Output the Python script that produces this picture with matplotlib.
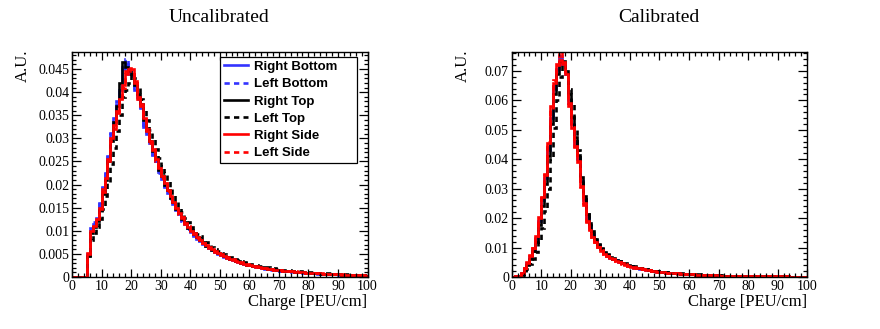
import numpy as np
import matplotlib.pyplot as plt
from matplotlib.ticker import MultipleLocator

# bin edges: 1 PEU/cm bins from 0 to 100
edges = np.arange(0, 101, 1)

labels = ["Right Bottom", "Left Bottom", "Right Top", "Left Top", "Right Side", "Left Side"]

# ---- Uncalibrated ----
unc_right_bottom = [
    0, 0, 0, 0, 0, 0.0050, 0.0105, 0.0115, 0.0128, 0.0160,
    0.0195, 0.0222, 0.0262, 0.0310, 0.0345, 0.0375, 0.0405, 0.0455, 0.0462, 0.0440,
    0.0440, 0.0405, 0.0390, 0.0365, 0.0325, 0.0310, 0.0290, 0.0265, 0.0250, 0.0228,
    0.0212, 0.0198, 0.0182, 0.0170, 0.0158, 0.0145, 0.0136, 0.0124, 0.0115, 0.0105,
    0.0097, 0.0090, 0.0083, 0.0077, 0.0072, 0.0067, 0.0062, 0.0058, 0.0054, 0.0050,
    0.0047, 0.0044, 0.0042, 0.0039, 0.0037, 0.0034, 0.0032, 0.0030, 0.0028, 0.0027,
    0.0025, 0.0024, 0.0022, 0.0021, 0.0020, 0.0019, 0.0018, 0.0017, 0.0016, 0.0015,
    0.0014, 0.0014, 0.0013, 0.0012, 0.0012, 0.0011, 0.0010, 0.0010, 0.0009, 0.0009,
    0.0009, 0.0008, 0.0008, 0.0008, 0.0007, 0.0007, 0.0007, 0.0006, 0.0006, 0.0006,
    0.0005, 0.0005, 0.0005, 0.0005, 0.0004, 0.0004, 0.0004, 0.0004, 0.0003, 0.0003]
unc_left_bottom = [
    0, 0, 0, 0, 0, 0.0048, 0.0102, 0.0118, 0.0125, 0.0158,
    0.0192, 0.0225, 0.0260, 0.0312, 0.0340, 0.0380, 0.0410, 0.0450, 0.0472, 0.0445,
    0.0435, 0.0410, 0.0385, 0.0368, 0.0330, 0.0305, 0.0292, 0.0262, 0.0252, 0.0225,
    0.0214, 0.0195, 0.0184, 0.0168, 0.0160, 0.0143, 0.0138, 0.0122, 0.0117, 0.0103,
    0.0098, 0.0089, 0.0084, 0.0076, 0.0073, 0.0066, 0.0063, 0.0057, 0.0055, 0.0049,
    0.0048, 0.0043, 0.0042, 0.0038, 0.0037, 0.0034, 0.0033, 0.0030, 0.0029, 0.0026,
    0.0025, 0.0023, 0.0023, 0.0021, 0.0020, 0.0018, 0.0018, 0.0016, 0.0016, 0.0015,
    0.0014, 0.0013, 0.0013, 0.0012, 0.0011, 0.0011, 0.0010, 0.0010, 0.0009, 0.0009,
    0.0008, 0.0008, 0.0008, 0.0007, 0.0007, 0.0007, 0.0006, 0.0006, 0.0006, 0.0006,
    0.0005, 0.0005, 0.0005, 0.0004, 0.0004, 0.0004, 0.0004, 0.0003, 0.0003, 0.0003]
unc_right_top = [
    0, 0, 0, 0, 0, 0.0045, 0.0095, 0.0108, 0.0122, 0.0145,
    0.0180, 0.0210, 0.0250, 0.0295, 0.0335, 0.0370, 0.0420, 0.0465, 0.0455, 0.0445,
    0.0440, 0.0415, 0.0395, 0.0375, 0.0340, 0.0318, 0.0295, 0.0272, 0.0255, 0.0232,
    0.0218, 0.0200, 0.0188, 0.0172, 0.0162, 0.0148, 0.0140, 0.0126, 0.0118, 0.0107,
    0.0101, 0.0092, 0.0087, 0.0079, 0.0075, 0.0068, 0.0064, 0.0059, 0.0056, 0.0051,
    0.0049, 0.0045, 0.0043, 0.0040, 0.0038, 0.0035, 0.0034, 0.0031, 0.0030, 0.0027,
    0.0026, 0.0024, 0.0023, 0.0021, 0.0021, 0.0019, 0.0018, 0.0017, 0.0017, 0.0015,
    0.0015, 0.0014, 0.0013, 0.0013, 0.0012, 0.0011, 0.0011, 0.0010, 0.0010, 0.0009,
    0.0009, 0.0009, 0.0008, 0.0008, 0.0007, 0.0007, 0.0007, 0.0007, 0.0006, 0.0006,
    0.0006, 0.0005, 0.0005, 0.0005, 0.0005, 0.0004, 0.0004, 0.0004, 0.0004, 0.0003]
unc_left_top = [
    0, 0, 0, 0, 0, 0.0040, 0.0080, 0.0095, 0.0108, 0.0125,
    0.0148, 0.0175, 0.0205, 0.0245, 0.0280, 0.0315, 0.0350, 0.0390, 0.0405, 0.0420,
    0.0440, 0.0430, 0.0410, 0.0385, 0.0365, 0.0340, 0.0318, 0.0298, 0.0278, 0.0258,
    0.0240, 0.0225, 0.0208, 0.0192, 0.0178, 0.0165, 0.0150, 0.0140, 0.0128, 0.0118,
    0.0108, 0.0102, 0.0094, 0.0088, 0.0081, 0.0076, 0.0070, 0.0066, 0.0061, 0.0057,
    0.0053, 0.0050, 0.0047, 0.0044, 0.0041, 0.0039, 0.0036, 0.0034, 0.0032, 0.0030,
    0.0029, 0.0027, 0.0026, 0.0024, 0.0023, 0.0022, 0.0021, 0.0020, 0.0019, 0.0018,
    0.0017, 0.0016, 0.0015, 0.0015, 0.0014, 0.0013, 0.0013, 0.0012, 0.0011, 0.0011,
    0.0010, 0.0010, 0.0009, 0.0009, 0.0009, 0.0008, 0.0008, 0.0008, 0.0007, 0.0007,
    0.0007, 0.0006, 0.0006, 0.0006, 0.0006, 0.0005, 0.0005, 0.0005, 0.0005, 0.0004]
unc_right_side = [
    0, 0, 0, 0, 0, 0.0052, 0.0100, 0.0110, 0.0125, 0.0150,
    0.0190, 0.0215, 0.0255, 0.0300, 0.0330, 0.0360, 0.0385, 0.0415, 0.0440, 0.0450,
    0.0450, 0.0420, 0.0390, 0.0375, 0.0345, 0.0315, 0.0295, 0.0275, 0.0255, 0.0235,
    0.0218, 0.0203, 0.0189, 0.0175, 0.0162, 0.0150, 0.0139, 0.0128, 0.0117, 0.0108,
    0.0100, 0.0093, 0.0086, 0.0080, 0.0074, 0.0069, 0.0064, 0.0060, 0.0056, 0.0052,
    0.0049, 0.0046, 0.0043, 0.0040, 0.0038, 0.0035, 0.0033, 0.0031, 0.0029, 0.0027,
    0.0026, 0.0024, 0.0023, 0.0022, 0.0020, 0.0019, 0.0018, 0.0017, 0.0016, 0.0016,
    0.0015, 0.0014, 0.0013, 0.0013, 0.0012, 0.0011, 0.0011, 0.0010, 0.0010, 0.0009,
    0.0009, 0.0009, 0.0008, 0.0008, 0.0008, 0.0007, 0.0007, 0.0007, 0.0006, 0.0006,
    0.0006, 0.0006, 0.0005, 0.0005, 0.0005, 0.0005, 0.0004, 0.0004, 0.0004, 0.0003]
unc_left_side = [
    0, 0, 0, 0, 0, 0.0050, 0.0098, 0.0112, 0.0122, 0.0148,
    0.0185, 0.0210, 0.0250, 0.0295, 0.0320, 0.0355, 0.0380, 0.0410, 0.0445, 0.0452,
    0.0445, 0.0425, 0.0385, 0.0370, 0.0348, 0.0320, 0.0290, 0.0278, 0.0250, 0.0238,
    0.0215, 0.0205, 0.0186, 0.0178, 0.0160, 0.0152, 0.0137, 0.0130, 0.0115, 0.0110,
    0.0098, 0.0095, 0.0084, 0.0082, 0.0073, 0.0070, 0.0063, 0.0061, 0.0055, 0.0053,
    0.0048, 0.0047, 0.0042, 0.0041, 0.0037, 0.0036, 0.0032, 0.0032, 0.0028, 0.0028,
    0.0025, 0.0025, 0.0022, 0.0022, 0.0020, 0.0019, 0.0018, 0.0018, 0.0016, 0.0016,
    0.0015, 0.0014, 0.0014, 0.0013, 0.0012, 0.0012, 0.0011, 0.0010, 0.0010, 0.0009,
    0.0009, 0.0009, 0.0008, 0.0008, 0.0007, 0.0007, 0.0007, 0.0007, 0.0006, 0.0006,
    0.0006, 0.0005, 0.0005, 0.0005, 0.0005, 0.0004, 0.0004, 0.0004, 0.0004, 0.0003]

# ---- Calibrated ----
cal_right_bottom = [
    0.0000, 0.0002, 0.0005, 0.0011, 0.0028, 0.0046, 0.0068, 0.0095, 0.0130, 0.0190,
    0.0260, 0.0335, 0.0430, 0.0540, 0.0640, 0.0705, 0.0745, 0.0725, 0.0690, 0.0600,
    0.0520, 0.0460, 0.0400, 0.0325, 0.0262, 0.0205, 0.0170, 0.0145, 0.0124, 0.0108,
    0.0094, 0.0082, 0.0073, 0.0066, 0.0061, 0.0057, 0.0052, 0.0047, 0.0043, 0.0039,
    0.0036, 0.0033, 0.0031, 0.0029, 0.0027, 0.0025, 0.0023, 0.0022, 0.0020, 0.0019,
    0.0017, 0.0016, 0.0015, 0.0014, 0.0013, 0.0013, 0.0012, 0.0011, 0.0010, 0.0010,
    0.0009, 0.0009, 0.0008, 0.0008, 0.0007, 0.0007, 0.0007, 0.0006, 0.0006, 0.0006,
    0.0005, 0.0005, 0.0005, 0.0005, 0.0004, 0.0004, 0.0004, 0.0004, 0.0003, 0.0003,
    0.0003, 0.0003, 0.0003, 0.0003, 0.0002, 0.0002, 0.0002, 0.0002, 0.0002, 0.0002,
    0.0002, 0.0002, 0.0002, 0.0001, 0.0001, 0.0001, 0.0001, 0.0001, 0.0001, 0.0001]
cal_left_bottom = [
    0.0000, 0.0002, 0.0005, 0.0012, 0.0029, 0.0047, 0.0070, 0.0093, 0.0133, 0.0186,
    0.0265, 0.0330, 0.0438, 0.0532, 0.0648, 0.0700, 0.0752, 0.0718, 0.0695, 0.0592,
    0.0525, 0.0452, 0.0405, 0.0318, 0.0266, 0.0200, 0.0173, 0.0142, 0.0126, 0.0106,
    0.0095, 0.0081, 0.0074, 0.0065, 0.0062, 0.0056, 0.0053, 0.0046, 0.0044, 0.0038,
    0.0037, 0.0032, 0.0031, 0.0028, 0.0027, 0.0024, 0.0023, 0.0021, 0.0020, 0.0018,
    0.0017, 0.0016, 0.0015, 0.0014, 0.0013, 0.0012, 0.0012, 0.0011, 0.0010, 0.0010,
    0.0009, 0.0009, 0.0008, 0.0008, 0.0007, 0.0007, 0.0006, 0.0006, 0.0006, 0.0006,
    0.0005, 0.0005, 0.0005, 0.0004, 0.0004, 0.0004, 0.0004, 0.0003, 0.0003, 0.0003,
    0.0003, 0.0003, 0.0003, 0.0002, 0.0002, 0.0002, 0.0002, 0.0002, 0.0002, 0.0002,
    0.0002, 0.0002, 0.0001, 0.0001, 0.0001, 0.0001, 0.0001, 0.0001, 0.0001, 0.0001]
cal_right_top = [
    0.0000, 0.0002, 0.0004, 0.0010, 0.0025, 0.0042, 0.0062, 0.0088, 0.0120, 0.0175,
    0.0240, 0.0315, 0.0410, 0.0520, 0.0620, 0.0690, 0.0730, 0.0735, 0.0700, 0.0620,
    0.0545, 0.0475, 0.0415, 0.0340, 0.0275, 0.0215, 0.0178, 0.0150, 0.0128, 0.0110,
    0.0096, 0.0084, 0.0075, 0.0068, 0.0062, 0.0058, 0.0053, 0.0048, 0.0044, 0.0040,
    0.0037, 0.0034, 0.0032, 0.0030, 0.0028, 0.0026, 0.0024, 0.0022, 0.0021, 0.0019,
    0.0018, 0.0017, 0.0016, 0.0015, 0.0014, 0.0013, 0.0012, 0.0011, 0.0011, 0.0010,
    0.0010, 0.0009, 0.0009, 0.0008, 0.0008, 0.0007, 0.0007, 0.0007, 0.0006, 0.0006,
    0.0006, 0.0005, 0.0005, 0.0005, 0.0004, 0.0004, 0.0004, 0.0004, 0.0003, 0.0003,
    0.0003, 0.0003, 0.0003, 0.0003, 0.0002, 0.0002, 0.0002, 0.0002, 0.0002, 0.0002,
    0.0002, 0.0002, 0.0002, 0.0002, 0.0001, 0.0001, 0.0001, 0.0001, 0.0001, 0.0001]
cal_left_top = [
    0.0000, 0.0001, 0.0003, 0.0007, 0.0015, 0.0028, 0.0045, 0.0062, 0.0085, 0.0120,
    0.0165, 0.0225, 0.0300, 0.0400, 0.0505, 0.0600, 0.0680, 0.0720, 0.0690, 0.0640,
    0.0590, 0.0500, 0.0430, 0.0335, 0.0265, 0.0215, 0.0185, 0.0155, 0.0130, 0.0112,
    0.0098, 0.0086, 0.0078, 0.0070, 0.0065, 0.0060, 0.0055, 0.0050, 0.0046, 0.0042,
    0.0038, 0.0036, 0.0033, 0.0031, 0.0029, 0.0027, 0.0025, 0.0023, 0.0022, 0.0020,
    0.0019, 0.0018, 0.0016, 0.0015, 0.0014, 0.0014, 0.0013, 0.0012, 0.0011, 0.0011,
    0.0010, 0.0010, 0.0009, 0.0009, 0.0008, 0.0008, 0.0007, 0.0007, 0.0007, 0.0006,
    0.0006, 0.0006, 0.0005, 0.0005, 0.0005, 0.0005, 0.0004, 0.0004, 0.0004, 0.0004,
    0.0003, 0.0003, 0.0003, 0.0003, 0.0003, 0.0003, 0.0002, 0.0002, 0.0002, 0.0002,
    0.0002, 0.0002, 0.0002, 0.0002, 0.0002, 0.0001, 0.0001, 0.0001, 0.0001, 0.0001]
cal_right_side = [
    0.0000, 0.0002, 0.0005, 0.0012, 0.0030, 0.0050, 0.0072, 0.0100, 0.0138, 0.0205,
    0.0272, 0.0350, 0.0455, 0.0580, 0.0660, 0.0725, 0.0738, 0.0732, 0.0690, 0.0590,
    0.0505, 0.0445, 0.0390, 0.0310, 0.0245, 0.0190, 0.0160, 0.0137, 0.0118, 0.0103,
    0.0090, 0.0078, 0.0070, 0.0064, 0.0060, 0.0056, 0.0051, 0.0046, 0.0042, 0.0038,
    0.0035, 0.0033, 0.0031, 0.0029, 0.0027, 0.0025, 0.0023, 0.0021, 0.0020, 0.0018,
    0.0017, 0.0016, 0.0015, 0.0014, 0.0013, 0.0012, 0.0012, 0.0011, 0.0010, 0.0010,
    0.0009, 0.0009, 0.0008, 0.0008, 0.0007, 0.0007, 0.0007, 0.0006, 0.0006, 0.0006,
    0.0005, 0.0005, 0.0005, 0.0005, 0.0004, 0.0004, 0.0004, 0.0004, 0.0003, 0.0003,
    0.0003, 0.0003, 0.0003, 0.0003, 0.0002, 0.0002, 0.0002, 0.0002, 0.0002, 0.0002,
    0.0002, 0.0002, 0.0002, 0.0001, 0.0001, 0.0001, 0.0001, 0.0001, 0.0001, 0.0001]
cal_left_side = [
    0.0000, 0.0002, 0.0006, 0.0013, 0.0032, 0.0048, 0.0075, 0.0098, 0.0140, 0.0200,
    0.0278, 0.0345, 0.0460, 0.0570, 0.0670, 0.0720, 0.0765, 0.0725, 0.0695, 0.0580,
    0.0510, 0.0440, 0.0395, 0.0305, 0.0250, 0.0188, 0.0162, 0.0135, 0.0120, 0.0101,
    0.0091, 0.0077, 0.0071, 0.0063, 0.0061, 0.0055, 0.0052, 0.0045, 0.0043, 0.0037,
    0.0036, 0.0032, 0.0031, 0.0028, 0.0027, 0.0024, 0.0023, 0.0021, 0.0020, 0.0018,
    0.0017, 0.0016, 0.0015, 0.0014, 0.0013, 0.0012, 0.0011, 0.0011, 0.0010, 0.0010,
    0.0009, 0.0009, 0.0008, 0.0008, 0.0007, 0.0007, 0.0006, 0.0006, 0.0006, 0.0006,
    0.0005, 0.0005, 0.0005, 0.0004, 0.0004, 0.0004, 0.0004, 0.0004, 0.0003, 0.0003,
    0.0003, 0.0003, 0.0003, 0.0003, 0.0002, 0.0002, 0.0002, 0.0002, 0.0002, 0.0002,
    0.0002, 0.0002, 0.0002, 0.0002, 0.0001, 0.0001, 0.0001, 0.0001, 0.0001, 0.0001]

styles = [("#3333ff", "-"), ("#3333ff", (0, (2, 1.6))),
          ("black", "-"), ("black", (0, (2, 1.6))),
          ("#ff0000", "-"), ("#ff0000", (0, (2, 1.6)))]

plt.rcParams['font.family'] = ['Liberation Serif', 'DejaVu Serif']

fig = plt.figure(figsize=(8.8, 3.29), dpi=100)
W, H = 880.0, 329.0


def yfmt_g(v, pos):
    return "%g" % round(v, 4)


def setup_axes(ax, ymax, ymajor, yminor):
    ax.set_xlim(0, 100)
    ax.set_ylim(0, ymax)
    ax.xaxis.set_major_locator(MultipleLocator(10))
    ax.xaxis.set_minor_locator(MultipleLocator(2))
    ax.yaxis.set_major_locator(MultipleLocator(ymajor))
    ax.yaxis.set_minor_locator(MultipleLocator(yminor))
    ax.yaxis.set_major_formatter(plt.FuncFormatter(yfmt_g))
    ax.tick_params(which='both', direction='in', top=True, right=True,
                   labelsize=10, width=0.9, pad=2)
    ax.tick_params(axis='x', which='major', length=6)
    ax.tick_params(axis='x', which='minor', length=3)
    ax.tick_params(axis='y', which='major', length=6.5)
    ax.tick_params(axis='y', which='minor', length=3.2)
    for s in ax.spines.values():
        s.set_linewidth(1.0)


panels = [
    ("Uncalibrated", 72, [unc_right_bottom, unc_left_bottom, unc_right_top,
                          unc_left_top, unc_right_side, unc_left_side],
     0.0488, 0.005, 0.001),
    ("Calibrated", 511.7, [cal_right_bottom, cal_left_bottom, cal_right_top,
                           cal_left_top, cal_right_side, cal_left_side],
     0.0766, 0.01, 0.002),
]

for i, (title, x0, series, ymax, ymaj, ymin) in enumerate(panels):
    ax = fig.add_axes([x0 / W, 1 - 277 / H, 295.5 / W, 225.5 / H])
    for vals, lab, (col, ls) in zip(series, labels, styles):
        ax.stairs(vals, edges, baseline=None, color=col, linestyle=ls,
                  linewidth=1.9, label=lab)
    setup_axes(ax, ymax, ymaj, ymin)
    ax.set_xlabel("Charge [PEU/cm]", fontsize=12, loc='right', labelpad=1)
    fig.text((x0 + 147.5) / W, 1 - 18 / H, title, fontsize=14,
             ha='center', va='center')
    fig.text((x0 - 49) / W, 1 - 50 / H, "A.U.", fontsize=12, rotation=90,
             ha='center', va='top')
    if i == 0:
        # legend box spans roughly x 220-357 px, y 57-163 px
        leg = ax.legend(loc='upper left', mode='expand',
                        bbox_to_anchor=(0.502, 0.505, 0.464, 0.471),
                        borderaxespad=0, fancybox=False, framealpha=1,
                        edgecolor='black', handlelength=1.8, handletextpad=0.45,
                        labelspacing=0.38, borderpad=0.3,
                        prop={'family': 'Liberation Sans', 'weight': 'bold',
                              'size': 9.5})
        leg.get_frame().set_linewidth(0.9)

fig.savefig("out.png", dpi=100)
